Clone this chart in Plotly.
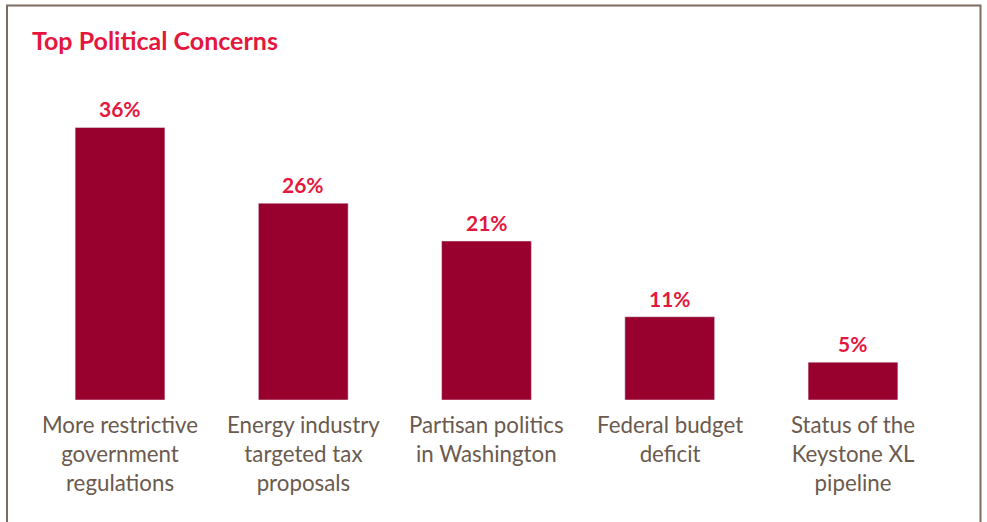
import plotly.graph_objects as go

categories = [
    "More restrictive<br>government<br>regulations",
    "Energy industry<br>targeted tax<br>proposals",
    "Partisan politics<br>in Washington",
    "Federal budget<br>deficit",
    "Status of the<br>Keystone XL<br>pipeline",
]
values = [36, 26, 21, 11, 5]
value_labels = ["36%", "26%", "21%", "11%", "5%"]

W, H = 987, 522
BAR = "#98002e"
RED = "#e4173e"
BROWN = "#6b5a4e"
FONT = "Lato"

x = list(range(len(categories)))

fig = go.Figure()
fig.add_trace(go.Bar(x=x, y=values, marker_color=BAR, width=0.49,
                     hoverinfo="skip"))

annotations = []
for i, (v, lab) in enumerate(zip(values, value_labels)):
    annotations.append(dict(x=i, y=v, text="<b>%s</b>" % lab, showarrow=False,
                            xref="x", yref="y", yanchor="bottom", yshift=4,
                            font=dict(family=FONT, size=21, color=RED)))
for i, c in enumerate(categories):
    annotations.append(dict(x=i, y=0, text=c, showarrow=False, xref="x", yref="y",
                            yanchor="top", yshift=-9,
                            font=dict(family=FONT, size=22.3, color=BROWN)))
annotations.append(dict(x=30 / W, y=1 - 40 / H, xref="paper", yref="paper",
                        xanchor="left", yanchor="middle", showarrow=False,
                        text="<b>Top Political Concerns</b>",
                        font=dict(family=FONT, size=25, color=RED)))

fig.update_layout(
    width=W, height=H,
    margin=dict(l=0, r=0, t=0, b=0),
    paper_bgcolor="white", plot_bgcolor="white",
    showlegend=False,
    annotations=annotations,
    xaxis=dict(domain=[28.4 / W, 944.6 / W], range=[-0.5, 4.5],
               showticklabels=False, showgrid=False, zeroline=False,
               showline=False, ticks=""),
    yaxis=dict(domain=[(H - 400) / H, (H - 97.2) / H], range=[0, 40],
               showticklabels=False, showgrid=False, zeroline=False,
               showline=False, ticks=""),
    shapes=[dict(type="rect", xref="paper", yref="paper",
                 x0=7 / W, x1=980.5 / W, y0=-0.2, y1=1 - 5.5 / H,
                 line=dict(color="#7d6b60", width=2), fillcolor="rgba(0,0,0,0)",
                 layer="below")],
)

fig.write_html("out.html", config={"displayModeBar": False},
               post_script="document.body.style.margin='0';document.body.style.overflow='hidden';")
